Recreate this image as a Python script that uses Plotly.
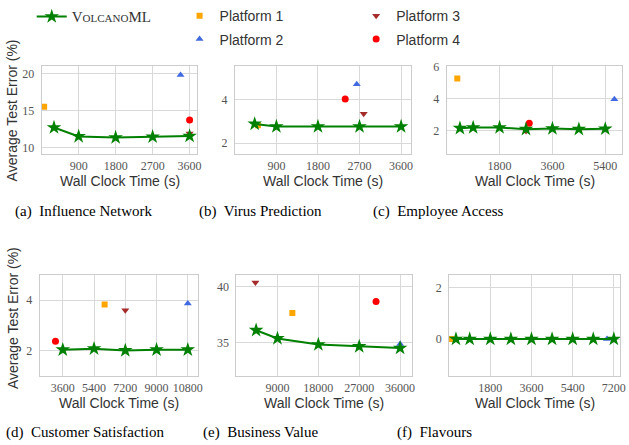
import plotly.graph_objects as go

W, H = 629, 445

# ---------------- data ----------------
a_vx = [300, 900, 1800, 2700, 3600]
a_vy = [12.7, 11.5, 11.35, 11.45, 11.55]
a_p1 = ([60], [15.5]); a_p2 = ([3380], [19.8]); a_p3 = ([3600], [11.9]); a_p4 = ([3600], [13.7])

b_vx = [430, 900, 1800, 2700, 3600]
b_vy = [2.88, 2.76, 2.76, 2.76, 2.76]
b_p1 = ([500], [2.82]); b_p2 = ([2640], [4.7]); b_p3 = ([2790], [3.35]); b_p4 = ([2390], [4.02])

c_vx = [450, 900, 1800, 2700, 3600, 4500, 5400]
c_vy = [2.16, 2.2, 2.2, 2.1, 2.14, 2.1, 2.12]
c_p1 = ([360], [5.25]); c_p2 = ([5710], [3.96]); c_p3 = ([2700], [1.98]); c_p4 = ([2810], [2.47])

d_vx = [3600, 5400, 7200, 9000, 10800]
d_vy = [2.04, 2.08, 2.01, 2.04, 2.04]
d_p1 = ([6010], [3.83]); d_p2 = ([10800], [3.87]); d_p3 = ([7200], [3.6]); d_p4 = ([3180], [2.37])

e_vx = [4300, 9000, 18000, 27000, 36000]
e_vy = [36.13, 35.4, 34.85, 34.68, 34.54]
e_p1 = ([12280], [37.67]); e_p2 = ([36000], [34.9]); e_p3 = ([4150], [40.4]); e_p4 = ([30700], [38.7])

f_vx = [300, 900, 1800, 2700, 3600, 4500, 5400, 6300, 7200]
f_vy = [0, 0, 0, 0, 0, 0, 0, 0, 0]
f_p1 = ([100], [0]); f_p2 = ([6900], [0]); f_p3 = ([], []); f_p4 = ([], [])

captions = ["(a)  Influence Network", "(b)  Virus Prediction", "(c)  Employee Access",
            "(d)  Customer Satisfaction", "(e)  Business Value", "(f)  Flavours"]
x_ticks = [[900, 1800, 2700, 3600], [900, 1800, 2700, 3600], [1800, 3600, 5400],
           [3600, 5400, 7200, 9000, 10800], [9000, 18000, 27000, 36000], [1800, 3600, 5400, 7200]]
y_ticks = [[10, 15, 20], [2, 4], [2, 4, 6], [2, 4], [35, 40], [0, 2]]
x_ranges = [[0, 3790], [0, 3808], [0, 5980], [2270, 11370], [-40, 38550], [0, 7470]]
y_ranges = [[9.08, 21.05], [1.48, 5.56], [0.53, 6.06], [0.98, 5.0], [32.0, 41.07], [-1.45, 2.48]]

panels = [
    (a_vx, a_vy, a_p1, a_p2, a_p3, a_p4),
    (b_vx, b_vy, b_p1, b_p2, b_p3, b_p4),
    (c_vx, c_vy, c_p1, c_p2, c_p3, c_p4),
    (d_vx, d_vy, d_p1, d_p2, d_p3, d_p4),
    (e_vx, e_vy, e_p1, e_p2, e_p3, e_p4),
    (f_vx, f_vy, f_p1, f_p2, f_p3, f_p4),
]

# ---------------- layout geometry (pixels) ----------------
boxes_px = [  # x0, x1, y_top, y_bottom
    (42, 199, 56, 147), (236.7, 414, 56, 147), (450.3, 627.3, 56, 147),
    (40, 199.3, 270.7, 374.7), (238.3, 415, 270.7, 374.7), (452.7, 625, 270.7, 374.7),
]
caption_px = [(85, 206), (263, 206), (442, 206), (86, 432), (263, 432), (438, 432)]

GREEN = "green"; ORANGE = "#FFA500"; BLUE = "#4169E1"; BROWN = "#A52A2A"; RED = "#FF0000"
plat_style = [
    ("Platform 1", "square", ORANGE, 6, "legend2", "g1"),
    ("Platform 2", "triangle-up", BLUE, 7, "legend2", "g2"),
    ("Platform 3", "triangle-down", BROWN, 7, "legend3", "g3"),
    ("Platform 4", "circle", RED, 7, "legend3", "g4"),
]

fig = go.Figure()
TICKFONT = dict(family="Liberation Serif", size=12, color="#555555")
GRID = "#d9d9d9"

for i, pan in enumerate(panels):
    vx, vy = pan[0], pan[1]
    n = i + 1
    xa = "x" if n == 1 else f"x{n}"
    ya = "y" if n == 1 else f"y{n}"
    for j, (name, sym, col, sz, lg, grp) in enumerate(plat_style):
        px_, py_ = pan[2 + j]
        fig.add_trace(go.Scatter(
            x=px_, y=py_, mode="markers", name=name, xaxis=xa, yaxis=ya,
            marker=dict(symbol=sym, color=col, size=sz),
            showlegend=(i == 0), legend=lg, legendgroup=grp))
    fig.add_trace(go.Scatter(
        x=vx, y=vy, mode="lines+markers", xaxis=xa, yaxis=ya,
        name="V<span style='font-size:11px'>OLCANO</span>ML",
        line=dict(color=GREEN, width=2),
        marker=dict(symbol="star", color=GREEN, size=11),
        showlegend=(i == 0), legend="legend"))

    x0, x1, yt, yb = boxes_px[i]
    key_x = "xaxis" if n == 1 else f"xaxis{n}"
    key_y = "yaxis" if n == 1 else f"yaxis{n}"
    fig.layout[key_x] = dict(
        domain=[x0 / W, x1 / W], range=x_ranges[i], tickvals=x_ticks[i],
        ticktext=[str(v) for v in x_ticks[i]],
        anchor=ya, showgrid=True, gridcolor=GRID, gridwidth=1, zeroline=False,
        showline=True, linecolor="#cccccc", linewidth=1, mirror=True,
        tickfont=TICKFONT, ticks="", ticklabelstandoff=0)
    fig.layout[key_y] = dict(
        domain=[1 - yb / H, 1 - yt / H], range=y_ranges[i], tickvals=y_ticks[i],
        ticktext=[str(v) for v in y_ticks[i]],
        anchor=xa, showgrid=True, gridcolor=GRID, gridwidth=1, zeroline=False,
        showline=True, linecolor="#cccccc", linewidth=1, mirror=True,
        tickfont=TICKFONT, ticks="", ticklabelstandoff=4)

annotations = []
for i, (cx, cy) in enumerate(caption_px):
    annotations.append(dict(text=captions[i], x=cx / W, y=1 - cy / H, xref="paper", yref="paper",
                            showarrow=False, xanchor="center", yanchor="middle",
                            font=dict(family="Liberation Serif", size=15, color="black")))
for i in range(6):
    x0, x1, yt, yb = boxes_px[i]
    ty = 174 if i < 3 else 402
    annotations.append(dict(text="Wall Clock Time (s)", x=(x0 + x1) / 2 / W, y=1 - ty / H,
                            xref="paper", yref="paper", showarrow=False,
                            xanchor="center", yanchor="middle",
                            font=dict(family="Liberation Sans", size=14, color="#333333")))
for cy in (102, 315):
    annotations.append(dict(text="Average Test Error (%)", x=13 / W, y=1 - cy / H,
                            xref="paper", yref="paper", showarrow=False, textangle=-90,
                            xanchor="center", yanchor="middle",
                            font=dict(family="Liberation Sans", size=14, color="#333333")))

LEG_Y = 1 + 11 / H
LEG = dict(bgcolor="rgba(0,0,0,0)", borderwidth=0, yanchor="top", xanchor="left",
           orientation="v", tracegroupgap=2, itemclick=False)
fig.update_layout(
    width=W, height=H, margin=dict(l=0, r=0, t=0, b=0),
    paper_bgcolor="white", plot_bgcolor="white",
    annotations=annotations,
    legend=dict(LEG, x=32 / W, y=LEG_Y, font=dict(family="Liberation Serif", size=15, color="#333333")),
    legend2=dict(LEG, x=181 / W, y=LEG_Y, font=dict(family="Liberation Sans", size=14, color="#333333")),
    legend3=dict(LEG, x=359 / W, y=LEG_Y, font=dict(family="Liberation Sans", size=14, color="#333333")),
)

fig.write_html("out.html", config={"displayModeBar": False},
               post_script="document.body.style.margin='0';")
